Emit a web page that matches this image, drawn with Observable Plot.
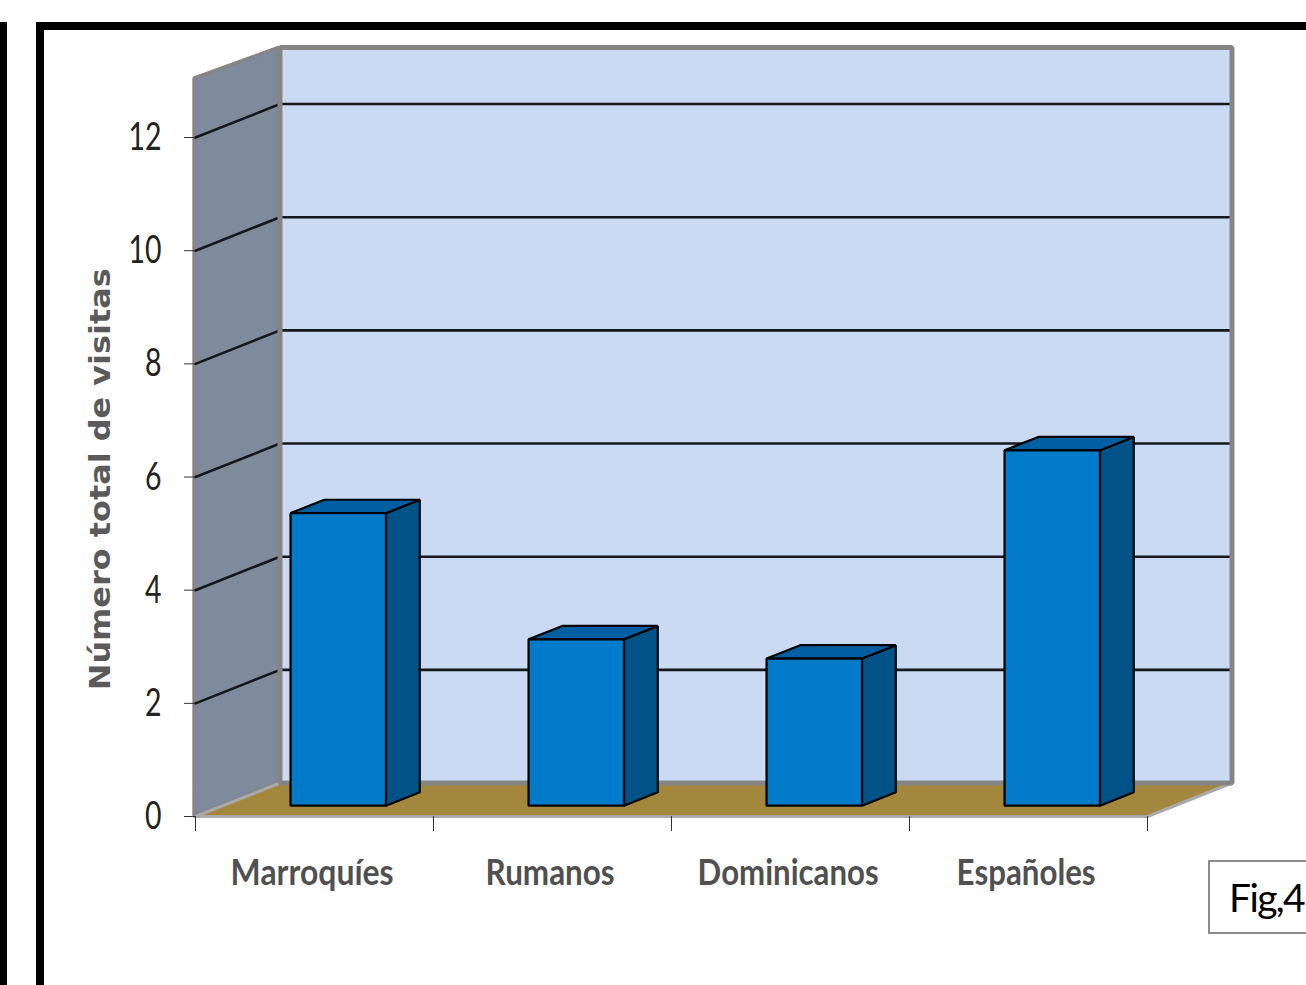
<!DOCTYPE html>
<html><head><meta charset="utf-8">
<script src="https://cdn.jsdelivr.net/npm/d3@7"></script>
<script src="https://cdn.jsdelivr.net/npm/@observablehq/plot@0.6"></script>
<style>
html,body{margin:0;padding:0;background:#fff;overflow:hidden;width:1306px;height:985px}
#chart{position:absolute;left:0;top:0}
.frame{position:absolute;background:#000}
#fig{position:absolute;left:1208px;top:861px;width:96px;height:70px;border:2px solid #8c8c8c;border-right:none;background:#fff;
 font:39px Lato,"Open Sans",sans-serif;letter-spacing:-1.6px;line-height:70px;padding-left:19px;color:#000;white-space:nowrap;box-sizing:content-box;margin-top:-1px}
</style></head><body>
<div id="chart"></div>
<div class="frame" style="left:0;top:22px;width:7px;height:963px"></div>
<div class="frame" style="left:36px;top:22px;width:1270px;height:8px"></div>
<div class="frame" style="left:36px;top:22px;width:8px;height:963px"></div>
<div id="fig">Fig,4</div>
<script>
const categories = ["Marroquíes", "Rumanos", "Dominicanos", "Españoles"];
const values = [5.17, 2.94, 2.6, 6.28];
const gridValues = [2, 4, 6, 8, 10, 12];
const yTicks = [0, 2, 4, 6, 8, 10, 12];
const xTicks = [0, 1, 2, 3, 4];
const yMax = 13;
const yTitle = "Número total de visitas";
const categoryWidths = [163, 129, 181, 139];

// oblique projection: depth 0 = front edge, depth 1 = back wall
const depthX = 84.5 / 238, depthY = 0.592;
const pt = (cat, val, depth) => ({x: cat + depth * depthX, y: val + depth * depthY});
const poly = (id, pts) => pts.map(p => ({id, ...p}));

const leftWall = poly("w", [pt(-0.006,0,0), pt(-0.006,0,1), pt(-0.006,yMax,1), pt(-0.006,yMax+0.05,0)]);
const backWall = poly("b", [pt(0,0,1), pt(4,0,1), pt(4,yMax,1), pt(0,yMax,1)]);
const floor = poly("f", [pt(0,0,0), pt(4,0,0), pt(4,0,1), pt(0,0,1)]);
const grid = gridValues.flatMap(v => poly(v, [pt(0,v,0), pt(0,v,1), pt(4,v,1)]));

const d0 = 0.3235, d1 = 0.7235, left = 0.2845, barW = 0.401;
const front = values.flatMap((v,i) => poly(i, [pt(i+left,0,d0), pt(i+left+barW,0,d0), pt(i+left+barW,v,d0), pt(i+left,v,d0)]));
const side = values.flatMap((v,i) => poly(i, [pt(i+left+barW,0,d0), pt(i+left+barW,0,d1), pt(i+left+barW,v,d1), pt(i+left+barW,v,d0)]));
const top_ = values.flatMap((v,i) => poly(i, [pt(i+left,v,d0), pt(i+left+barW,v,d0), pt(i+left+barW,v,d1), pt(i+left,v,d1)]));

const shape = (data, fill, stroke, strokeWidth) => Plot.line(data, {x:"x", y:"y", z:"id", fill, stroke, strokeWidth, curve:"linear-closed", strokeLinejoin:"miter"});
const calibri = 'Lato,"Open Sans",sans-serif';

const chart = Plot.plot({
  width: 1306, height: 985,
  marginLeft: 195, marginRight: 159, marginTop: 80.46, marginBottom: 169,
  style: {background: "transparent", overflow: "visible"},
  x: {domain: [0, 4], axis: null},
  y: {domain: [0, yMax], axis: null},
  marks: [
    shape(backWall, "#c9daf2", "none", 0),
    shape(leftWall, "#7f8b9c", "#858585", 3.5),
    shape(floor, "#a2873d", "#a9a9a9", 3),
    Plot.line(grid, {x:"x", y:"y", z:"id", stroke:"#14181c", strokeWidth:2.6}),
    shape(backWall, "none", "#858585", 5),
    shape(side, "#005287", "#000", 2.2),
    shape(top_, "#005fa3", "#000", 2.2),
    shape(front, "#007bc9", "#000", 2.2),
    Plot.axisY({ticks: yTicks, tickSize: 11, tickPadding: 23, fontSize: 39, fontFamily: calibri, label: null, stroke:"#333", color:"#222", tickFormat: d => String(d)}),
    Plot.axisX({ticks: xTicks, tickSize: 15, tickFormat: () => "", label: null, stroke:"#333"}),
    Plot.text(categories, {x: (d,i) => i + 0.49, y: () => 0, dy: 57, text: d => d, fontSize: 36, fontWeight: 700, fontFamily: calibri, fill: "#505050"}),
    Plot.text([yTitle], {x: () => -0.395, y: () => 5.96, rotate: -90, text: d => d, fontSize: 28, fontWeight: 700, fontFamily: '"DejaVu Sans",sans-serif', fill: "#5a5a5a"})
  ]
});
// condensed, Calibri-like glyphs: squeeze or stretch real text to the reference widths
chart.querySelectorAll("text").forEach(t => {
  const s = t.textContent, c = categories.indexOf(s);
  const w = c >= 0 ? categoryWidths[c] : s === yTitle ? 422 : /^\d+$/.test(s) ? s.length * 16.5 : 0;
  if (w) { t.setAttribute("textLength", w); t.setAttribute("lengthAdjust", "spacingAndGlyphs"); }
});
document.getElementById("chart").appendChild(chart);
</script>
</body></html>
